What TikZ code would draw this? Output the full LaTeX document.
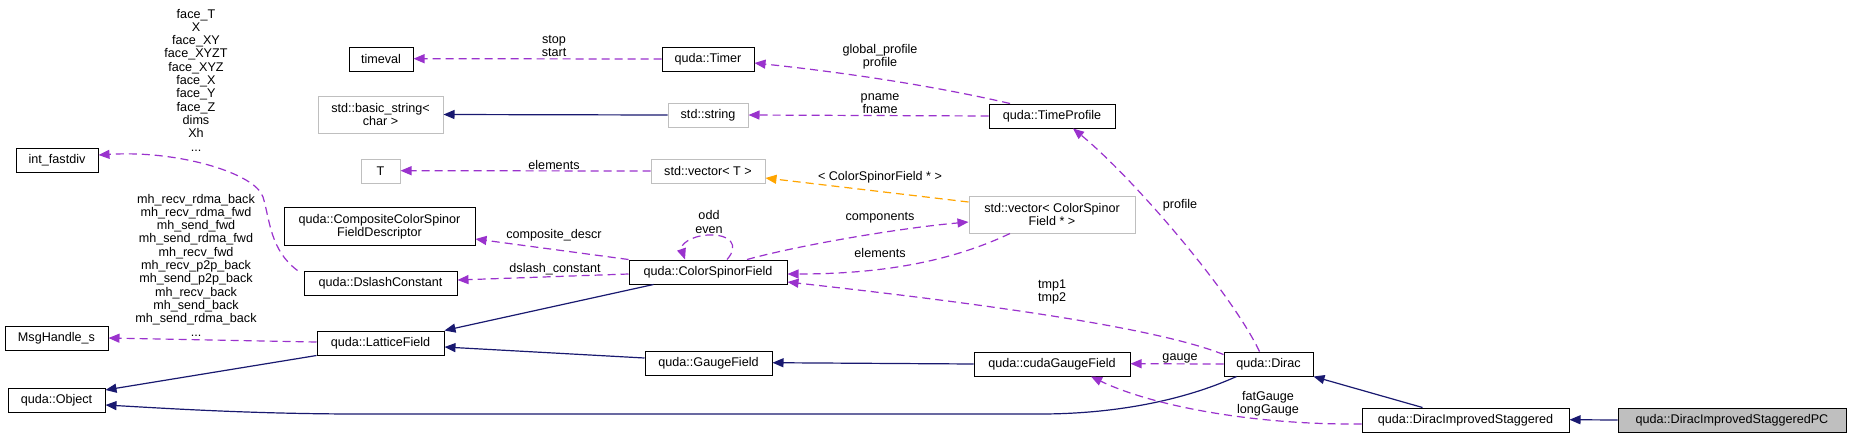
\documentclass[tikz,border=0pt]{standalone}
\usepackage{fontspec}
\setmainfont{Liberation Sans}
\usetikzlibrary{arrows.meta}
\definecolor{inhcol}{RGB}{25,25,112}
\definecolor{usecol}{RGB}{154,50,205}
\definecolor{tplcol}{RGB}{255,165,0}
\definecolor{grayb}{RGB}{191,191,191}
\tikzset{
  box/.style={draw=black, line width=1pt, inner sep=0pt, align=center, font=\fontsize{12.6}{13.3}\selectfont},
  gbox/.style={box, draw=grayb},
  lbl/.style={inner sep=0pt, align=center, font=\fontsize{12.6}{13.3}\selectfont},
  inh/.style={draw=inhcol, line width=1.2pt, -{Triangle[length=11pt,width=9pt]}},
  use/.style={draw=usecol, line width=1.2pt, dash pattern=on 8pt off 5pt, -{Triangle[length=11pt,width=9pt]}},
  tpl/.style={draw=tplcol, line width=1.2pt, dash pattern=on 8pt off 5pt, -{Triangle[length=11pt,width=9pt]}},
}
\begin{document}
\begin{tikzpicture}[x=1pt,y=-1pt]
\useasboundingbox[fill=white] (0,0) rectangle (1849,437);
% nodes
\node[box, minimum width=82pt, minimum height=24pt] (ifd) at (57,160) {int\_fastdiv};
\node[box, minimum width=103pt, minimum height=24pt] (msg) at (56.5,338) {MsgHandle\_s};
\node[box, minimum width=97pt, minimum height=24pt] (obj) at (56.5,400) {quda::Object};
\node[box, minimum width=64pt, minimum height=24pt] (tv) at (381,59) {timeval};
\node[gbox, minimum width=125pt, minimum height=37pt] (bstr) at (380.5,114.5) {std::basic\_string\textless\\char \textgreater};
\node[gbox, minimum width=39pt, minimum height=24pt] (T) at (380.5,171) {T};
\node[box, minimum width=191pt, minimum height=38pt] (comp) at (379.5,226.5) {quda::CompositeColorSpinor\\FieldDescriptor};
\node[box, minimum width=153pt, minimum height=24pt] (dsl) at (380.5,283) {quda::DslashConstant};
\node[box, minimum width=127pt, minimum height=24pt] (lat) at (380.5,343) {quda::LatticeField};
\node[box, minimum width=92pt, minimum height=24pt] (timer) at (708,59) {quda::Timer};
\node[gbox, minimum width=80pt, minimum height=24pt] (str) at (708,115) {std::string};
\node[gbox, minimum width=114pt, minimum height=24pt] (vecT) at (708,171) {std::vector\textless{} T \textgreater};
\node[box, minimum width=158pt, minimum height=24pt] (csf) at (708,272) {quda::ColorSpinorField};
\node[box, minimum width=127pt, minimum height=24pt] (gf) at (708.5,363) {quda::GaugeField};
\node[box, minimum width=126pt, minimum height=24pt] (tp) at (1052,116) {quda::TimeProfile};
\node[gbox, minimum width=166pt, minimum height=37pt] (vcsf) at (1052,214.5) {std::vector\textless{} ColorSpinor\\Field * \textgreater};
\node[box, minimum width=156pt, minimum height=24pt] (cgf) at (1052,364) {quda::cudaGaugeField};
\node[box, minimum width=89pt, minimum height=24pt] (dirac) at (1268.5,364) {quda::Dirac};
\node[box, minimum width=207pt, minimum height=24pt] (dis) at (1465.5,420) {quda::DiracImprovedStaggered};
\node[box, fill=grayb, minimum width=228pt, minimum height=24pt] (pc) at (1732,420) {quda::DiracImprovedStaggeredPC};
% labels
\node[lbl] (l1) at (196,80) {face\_T\\X\\face\_XY\\face\_XYZT\\face\_XYZ\\face\_X\\face\_Y\\face\_Z\\dims\\Xh\\...};
\node[lbl] (l2) at (196,265) {mh\_recv\_rdma\_back\\mh\_recv\_rdma\_fwd\\mh\_send\_fwd\\mh\_send\_rdma\_fwd\\mh\_recv\_fwd\\mh\_recv\_p2p\_back\\mh\_send\_p2p\_back\\mh\_recv\_back\\mh\_send\_back\\mh\_send\_rdma\_back\\...};
\node[lbl] (l3) at (554,46) {stop\\start};
\node[lbl] (l4) at (554,165) {elements};
\node[lbl] (l5) at (554,235) {composite\_descr};
\node[lbl] (l6) at (555,269) {dslash\_constant};
\node[lbl] (l7) at (880,57) {global\_profile\\profile};
\node[lbl] (l8) at (880,104) {pname\\fname};
\node[lbl] (l9) at (880,177) {\textless{} ColorSpinorField * \textgreater};
\node[lbl] (l10) at (880,218) {components};
\node[lbl] (l11) at (880,253) {elements};
\node[lbl] (l12) at (709,222) {odd\\even};
\node[lbl] (l13) at (1180,205) {profile};
\node[lbl] (l14) at (1052,292) {tmp1\\tmp2};
\node[lbl] (l15) at (1180,358) {gauge};
\node[lbl] (l16) at (1268,404) {fatGauge\\longGauge};
% edges
\draw[use] ([xshift=-6pt]dsl.north west) .. controls (270,250) and (270,220) .. (263,197) .. controls (256,174) and (180,150) .. ([yshift=5pt]ifd.east);
\draw[use] ([yshift=1pt]lat.west) -- (msg.east);
\draw[inh] (lat.south west) -- ([yshift=10pt]obj.east);
\draw[inh] ([xshift=13pt]dirac.south west) .. controls (1180,402) and (1110,414) .. (1040,414) -- (360,414) .. controls (250,414) and (160,408) .. ([yshift=-5pt]obj.east);
\draw[inh] ([xshift=25pt]csf.south west) -- (lat.north east);
\draw[inh] ([yshift=5pt]gf.west) -- ([yshift=-4pt]lat.east);
\draw[inh] (cgf.west) -- ([yshift=0.3pt]gf.east);
\draw[use] (csf.north west) -- ([yshift=-12.5pt]comp.east);
\draw[use] ([yshift=-2pt]csf.west) -- ([yshift=3pt]dsl.east);
\draw[use] ([xshift=19pt]csf.north) .. controls (740,245) and (730,234) .. (708,235) .. controls (690,236) and (680,245) .. ([xshift=-23pt]csf.north);
\draw[use] ([xshift=39pt]csf.north) .. controls (800,245) and (900,228) .. ([yshift=-7.5pt]vcsf.west);
\draw[use] ([xshift=-42pt]vcsf.south) .. controls (950,262) and (880,274) .. ([yshift=-2pt]csf.east);
\draw[tpl] ([yshift=12.5pt]vcsf.west) -- ([yshift=-7pt]vecT.east);
\draw[use] (vecT.west) -- ([yshift=0.3pt]T.east);
\draw[use] (timer.west) -- ([yshift=0.3pt]tv.east);
\draw[inh] (str.west) -- (bstr.east);
\draw[use] (tp.west) -- (str.east);
\draw[use] ([xshift=-42pt]tp.north) .. controls (930,85) and (840,72) .. ([yshift=-4pt]timer.east);
\draw[use] ([xshift=-9pt]dirac.north) .. controls (1230,290) and (1130,175) .. ([xshift=21pt]tp.south);
\draw[use] ([yshift=-3pt]dirac.north west) .. controls (1150,325) and (950,300) .. ([yshift=-10pt]csf.east);
\draw[use] (dirac.west) -- ([yshift=0.3pt]cgf.east);
\draw[use] ([yshift=-4pt]dis.west) .. controls (1250,425) and (1150,405) .. ([xshift=39pt]cgf.south);
\draw[inh] ([xshift=-43pt]dis.north) -- (dirac.south east);
\draw[inh] (pc.west) -- ([yshift=0.3pt]dis.east);
\end{tikzpicture}
\end{document}
